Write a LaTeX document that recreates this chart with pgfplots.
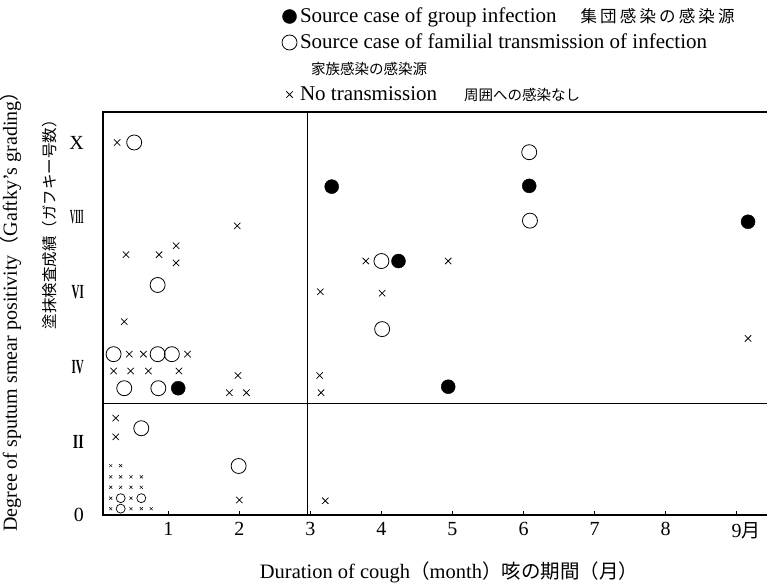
\documentclass[border=0pt]{standalone}
\usepackage{fontspec}
\setmainfont{Liberation Serif}
\newfontfamily\jp{Noto Sans CJK JP}
\usepackage{pgfplots}
\pgfplotsset{compat=1.18}
\newcommand{\fs}[1]{\fontsize{#1}{#1}\selectfont}

\begin{document}
\begin{tikzpicture}
\path[use as bounding box] (-103pt,-68pt) rectangle (664pt,515pt);
\begin{axis}[
  at={(0,0)}, anchor=south west,
  scale only axis, width=668pt, height=403pt,
  xmin=0.081, xmax=9.483, ymin=0.04, ymax=10.815,
  axis line style={line width=1.1pt},
  xtick={1,2,3,4,5,6,7,8,9},
  xticklabels={1,2,3,4,5,6,7,8,9\rlap{\jp\fs{19}月}},
  xtick pos=left,
  tick align=inside, major tick length=4pt,
  xtick style={line width=0.8pt, black},
  ytick={0.05,2,4,6,8,10},
  yticklabels={0,
    \scalebox{0.7}[1]{\textbf{II}},
    \scalebox{0.55}[1]{\textbf{IV}},
    \scalebox{0.55}[1]{\textbf{VI}},
    \scalebox{0.36}[1]{\textbf{VIII}},
    X},
  ytick style={draw=none},
  xticklabel style={font=\fs{20}, yshift=-4pt},
  yticklabel style={font=\fs{20}, anchor=east, inner sep=0pt, xshift=-19pt},
  legend style={at={(0.268,1.2568)}, anchor=north west, draw=none, fill=none,
    inner sep=0pt, outer sep=0pt, row sep=7pt, font=\fs{21},
    nodes={inner sep=0pt, text height=14pt, text depth=5pt},
    /tikz/every odd column/.append style={column sep=3pt}},
  legend cell align=left,
  legend image code/.code={\draw[#1] plot coordinates {(0pt,1.5pt)};},
]
% legend
\addlegendimage{only marks, mark=*, mark size=7pt, black, fill=black}
\addlegendentry{Source case of group infection\hspace*{24pt}{\jp\fs{16.5}\makebox[154pt][s]{集\hfill 団\hfill 感\hfill 染\hfill の\hfill 感\hfill 染\hfill 源}}}
\addlegendimage{only marks, mark=o, mark size=7.5pt, black, line width=0.8pt}
\addlegendentry{Source case of familial transmission of infection}
\addlegendimage{empty legend}
\addlegendentry{\hspace*{11pt}{\jp\fs{14.5}家族感染の感染源}}
\addlegendimage{only marks, mark=x, mark size=4.5pt, black, line width=0.75pt}
\addlegendentry{No transmission\hspace*{27pt}{\jp\fs{14.5}周囲への感染なし}}

% dividers
\addplot[black, line width=1.1pt, forget plot] coordinates {(2.956,0.04) (2.956,10.815)};
\addplot[black, line width=1.1pt, forget plot] coordinates {(0.081,3.01) (9.483,3.01)};

% no transmission (x)
\addplot[only marks, mark=x, mark size=4.5pt, black, line width=0.75pt, forget plot] coordinates {
(0.28,10) (1.97,7.77) (0.405,7.0) (0.87,7.0) (1.11,7.24) (1.11,6.78)
(0.38,5.21) (0.45,4.34) (0.65,4.34) (1.27,4.34)
(0.23,3.89) (0.47,3.89) (0.72,3.89) (1.15,3.89) (1.98,3.77)
(1.86,3.31) (2.10,3.31) (0.26,2.63) (0.26,2.13) (2.0,0.44)
(3.78,6.83) (4.94,6.83) (3.14,6.01) (4.01,5.97) (3.13,3.77) (3.15,3.31)
(9.16,4.76) (3.21,0.42)
};
% familial source (o)
\addplot[only marks, mark=o, mark size=7.5pt, black, line width=0.8pt, forget plot] coordinates {
(0.52,10) (0.85,6.19) (0.23,4.34) (0.85,4.34) (1.05,4.34)
(0.38,3.43) (0.86,3.43) (0.62,2.36) (1.99,1.35)
(4.0,6.83) (4.01,5.01) (6.08,9.74) (6.09,7.91)
};
% group source (filled)
\addplot[only marks, mark=*, mark size=7pt, black, fill=black, forget plot] coordinates {
(1.14,3.43) (3.30,8.82) (4.24,6.83) (4.94,3.47) (6.08,8.84) (9.16,7.88)
};
% small stacked x
\addplot[only marks, mark=x, mark size=2.2pt, black, line width=0.5pt, forget plot] coordinates {
(0.19,1.36) (0.33,1.36)
(0.19,1.06) (0.33,1.06) (0.475,1.06) (0.62,1.06)
(0.19,0.78) (0.33,0.78) (0.475,0.78) (0.62,0.78)
(0.19,0.49) (0.475,0.49)
(0.19,0.21) (0.475,0.21) (0.62,0.21) (0.76,0.21)
};
% small stacked o
\addplot[only marks, mark=o, mark size=4.5pt, black, line width=0.7pt, forget plot] coordinates {
(0.33,0.49) (0.62,0.49) (0.33,0.21)
};
\end{axis}
\node[font=\fs{20.5}] at (346pt,-57pt) {Duration of cough{\jp\fs{19.5}（}month{\jp\fs{19.5}）咳の期間（月）}};
\node[rotate=90, font=\fs{20}] at (-92pt,208pt) {Degree of sputum smear positivity{\jp\fs{19}（}Gaftky’s grading{\jp\fs{19}）}};
\node[rotate=90, font=\jp\fs{15.5}] at (-53pt,294pt) {塗抹検査成績（ガフキー号数）};
\end{tikzpicture}
\end{document}
